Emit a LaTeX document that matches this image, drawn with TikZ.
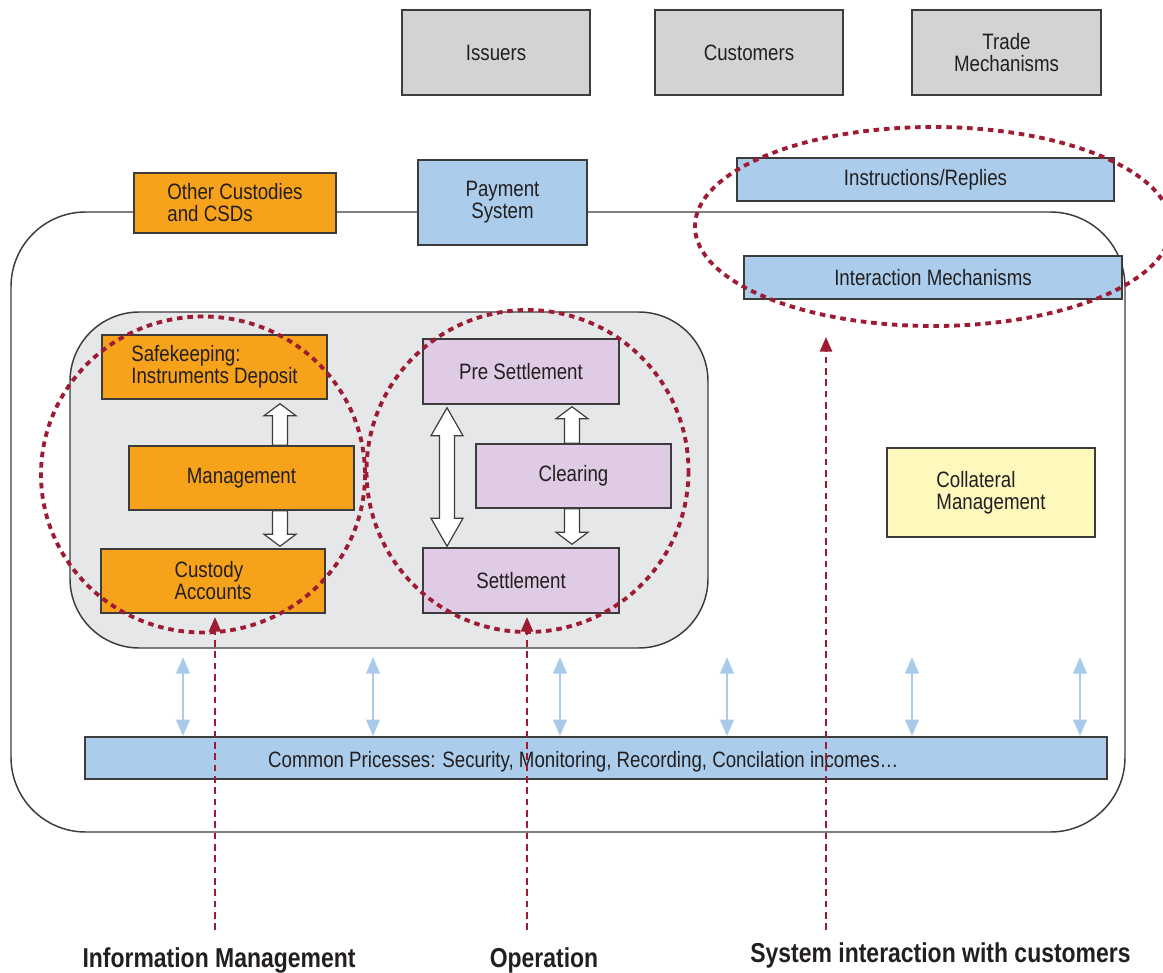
\documentclass[tikz,border=0pt]{standalone}
\usepackage{fontspec}
\setmainfont{Liberation Sans}[FakeStretch=0.84]
\usetikzlibrary{arrows.meta,calc}
\definecolor{txt}{HTML}{231F20}
\definecolor{bord}{HTML}{3C3C3C}
\definecolor{grayb}{HTML}{D1D3D4}
\definecolor{orangeb}{HTML}{F7A21B}
\definecolor{blueb}{HTML}{ABCDEB}
\definecolor{purpleb}{HTML}{DFCBE3}
\definecolor{yellowb}{HTML}{FFF8BD}
\definecolor{innerg}{HTML}{E6E7E8}
\definecolor{redd}{HTML}{9D1C34}
\definecolor{bluearr}{HTML}{A8CBEB}
\newcommand\fs{\fontsize{16.7pt}{16.5pt}\selectfont}
\newcommand\fb{\fontsize{20.5pt}{21pt}\selectfont\bfseries}
\newcommand\singleblk[2]{%
 \draw[blk] let \p1=(#1), \p2=(#2), \n1={ifthenelse(\y2>\y1,1,-1)} in
 (\x1-5.6pt,\y1) -- (\x1-5.6pt,\y2-\n1*9pt) -- (\x1-12pt,\y2-\n1*9pt) -- (\x2,\y2)
 -- (\x1+12pt,\y2-\n1*9pt) -- (\x1+5.6pt,\y2-\n1*9pt) -- (\x1+5.6pt,\y1) -- cycle;}
\newcommand\doubleblk[2]{%
 \draw[blk] let \p1=(#1), \p2=(#2), \n1={ifthenelse(\y2>\y1,1,-1)} in
 (\x1,\y1) -- (\x1-12pt,\y1+\n1*21pt) -- (\x1-5.6pt,\y1+\n1*21pt) -- (\x1-5.6pt,\y2-\n1*21pt)
 -- (\x1-12pt,\y2-\n1*21pt) -- (\x2,\y2) -- (\x1+12pt,\y2-\n1*21pt) -- (\x1+5.6pt,\y2-\n1*21pt)
 -- (\x1+5.6pt,\y1+\n1*21pt) -- (\x1+12pt,\y1+\n1*21pt) -- cycle;}
\begin{document}
\begin{tikzpicture}[x=0.75pt,y=-0.75pt,
  box/.style={draw=bord, line width=1.1pt, inner sep=0pt, font=\fs, text=txt},
  wh/.style 2 args={minimum width=#1*0.75pt, minimum height=#2*0.75pt},
  blk/.style={draw=bord, fill=white, line width=0.9pt, line join=miter},
  bluea/.style={draw=bluearr, line width=2.2pt,
    {Triangle[length=12.5pt,width=10pt]}-{Triangle[length=12.5pt,width=10pt]}},
  reddash/.style={draw=redd, line width=1.9pt, dash pattern=on 5pt off 3.5pt,
    -{Triangle[length=11pt,width=9pt]}},
  reddot/.style={draw=redd, line width=2.9pt, dash pattern=on 4.2pt off 3.6pt},
  lab/.style={font=\fb, text=txt, inner sep=0pt}]
\useasboundingbox (0,0) rectangle (1163,973);
% containers
\draw[draw=bord, line width=1.1pt, rounded corners=56pt] (11,212) rectangle (1125,832);
\draw[draw=bord, line width=1.1pt, fill=innerg, rounded corners=52pt] (70,312) rectangle (708,648);
% top boxes
\node[box, fill=grayb, wh={188}{85}] (iss) at (496,52.5) {Issuers};
\node[box, fill=grayb, wh={188}{85}] (cus) at (749,52.5) {Customers};
\node[box, fill=grayb, wh={189}{85}, align=center] (trade) at (1006.5,52.5) {Trade\\Mechanisms};
\node[box, fill=orangeb, wh={202}{60}, align=left] (oth) at (235,203) {Other Custodies\\and CSDs};
\node[box, fill=blueb, wh={169}{85}, align=center] (pay) at (502.5,202.5) {Payment\\System};
\node[box, fill=blueb, wh={377}{43}] (instr) at (925.5,179.5) {Instructions/Replies};
\node[box, fill=blueb, wh={378}{43}] (inter) at (933,277.5) {Interaction Mechanisms};
% info management
\node[box, fill=orangeb, wh={225}{64}, align=left] (safe) at (214.5,367) {Safekeeping:\\Instruments Deposit};
\node[box, fill=orangeb, wh={225}{64}] (mgmt) at (241.5,478) {Management};
\node[box, fill=orangeb, wh={224}{64}, align=left] (cust) at (213,581) {Custody\\Accounts};
% operation
\node[box, fill=purpleb, wh={196}{65}] (pre) at (521,371.5) {Pre Settlement};
\node[box, fill=purpleb, wh={195}{64}] (clr) at (573.5,476) {Clearing};
\node[box, fill=purpleb, wh={196}{65}] (set) at (521,580.5) {Settlement};
% collateral
\node[box, fill=yellowb, wh={208}{89}, align=left] (coll) at (991,492.5) {Collateral\\Management};
% common
\node[box, fill=blueb, wh={1022}{42}, text depth=0pt] (common) at (596,758) {\raisebox{-2pt}{Common Pricesses: Security, Monitoring, Recording, Concilation incomes…}\hspace*{19pt}};
% hollow arrows
\coordinate (axL) at (280,0);
\coordinate (axD) at (447,0);
\coordinate (axC) at (572,0);
\singleblk{mgmt.north -| axL}{$(safe.south -| axL)+(0,4)$}
\singleblk{mgmt.south -| axL}{$(cust.north -| axL)+(0,-2)$}
\doubleblk{$(pre.south -| axD)+(0,3)$}{$(set.north -| axD)+(0,-1)$}
\singleblk{clr.north -| axC}{$(pre.south -| axC)+(0,2)$}
\singleblk{clr.south -| axC}{$(set.north -| axC)+(0,-3)$}
% blue arrows
\foreach \bx [count=\i] in {183,373,560,727,912,1080}{
  \coordinate (bt\i) at (\bx,657);
  \draw[bluea] (bt\i) -- (common.north -| bt\i);
}
% dotted groupings
\draw[reddot] (203,474.5) ellipse [x radius=162, y radius=158];
\draw[reddot] (527.5,471) ellipse [x radius=161, y radius=161];
\draw[reddot] (933,226.5) ellipse [x radius=238, y radius=99.5];
% labels
\node[lab] (linfo) at (219,960) {Information Management};
\node[lab] (lop) at (544,960) {Operation};
\node[lab] (lsys) at (940.5,955.5) {System interaction with customers};
% red arrows
\coordinate (r1s) at (215,930); \coordinate (r1t) at (215,617);
\coordinate (r2s) at (527,930); \coordinate (r2t) at (527,617);
\coordinate (r3s) at (826,930); \coordinate (r3t) at (826,337);
\draw[reddash] (r1s) -- (r1t);
\draw[reddash] (r2s) -- (r2t);
\draw[reddash] (r3s) -- (r3t);
\end{tikzpicture}
\end{document}
